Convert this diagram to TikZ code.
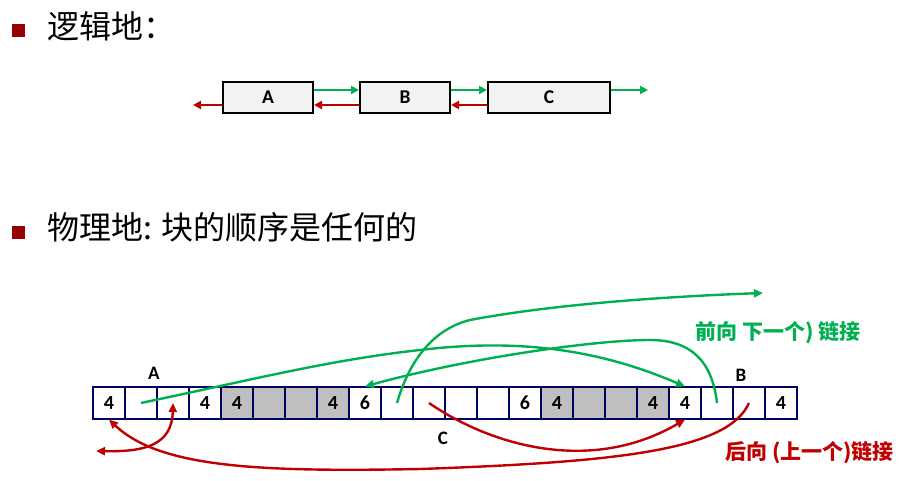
\documentclass[tikz,border=0pt]{standalone}
\usepackage{fontspec}
\setmainfont{Carlito}
\newfontfamily\cjk{Noto Sans CJK SC}
\usetikzlibrary{arrows.meta}
\definecolor{lgreen}{HTML}{00B050}
\definecolor{lred}{HTML}{C00000}
\definecolor{bul}{HTML}{990000}
\definecolor{navy}{HTML}{000060}
\definecolor{boxfill}{HTML}{F2F2F2}
\definecolor{gfill}{HTML}{BFBFBF}
\begin{document}
\begin{tikzpicture}[x=1pt,y=-1pt,
  bulletbox/.style={fill=bul, minimum size=13pt, inner sep=0pt},
  titletext/.style={font=\cjk\fontsize{32}{36}\selectfont, anchor=west, inner sep=0pt},
  lbox/.style={draw=black, line width=2pt, fill=boxfill, minimum height=31pt, inner sep=0pt, font=\fontsize{19.5}{22}\selectfont\bfseries},
  cell/.style={draw=navy, line width=1.1pt, minimum size=32pt, inner sep=0pt, font=\fontsize{20}{22}\selectfont\bfseries},
  gcell/.style={cell, fill=gfill},
  lab/.style={font=\fontsize{19}{21}\selectfont\bfseries, inner sep=0pt},
  legend/.style={font=\cjk\fontsize{21}{24}\selectfont\bfseries, anchor=west, inner sep=0pt},
  tgarr/.style={draw=lgreen, line width=2pt, -{Triangle[length=8pt,width=8pt]}},
  trarr/.style={draw=lred, line width=2pt, -{Triangle[length=8pt,width=8pt]}},
  bgarr/.style={draw=lgreen, line width=2.4pt, -{Triangle[length=9pt,width=8pt]}},
  brarr/.style={draw=lred, line width=2.4pt, -{Triangle[length=9pt,width=8pt]}},
]
\path[use as bounding box] (0,0) rectangle (912,481);

% titles
\node[bulletbox] (b1) at (18.5,30.5) {};
\node[titletext] (t1) at (47,26) {逻辑地：};
\node[bulletbox] (b2) at (18.5,232) {};
\node[titletext] (t2) at (47,227) {物理地: 块的顺序是任何的};

% logical list
\node[lbox, minimum width=90pt] (A) at (268,97.5) {A};
\node[lbox, minimum width=90pt] (B) at (405,97.5) {B};
\node[lbox, minimum width=122pt] (C) at (549,97.5) {C};
\coordinate (nullA) at (193,105);
\coordinate (nullC) at (648,90);
\draw[tgarr] ([yshift=7.5pt]A.east) -- ([yshift=7.5pt]B.west);
\draw[tgarr] ([yshift=7.5pt]B.east) -- ([yshift=7.5pt]C.west);
\draw[tgarr] ([yshift=7.5pt]C.east) -- (nullC);
\draw[trarr] ([yshift=-7.5pt]B.west) -- ([yshift=-7.5pt]A.east);
\draw[trarr] ([yshift=-7.5pt]C.west) -- ([yshift=-7.5pt]B.east);
\draw[trarr] ([yshift=-7.5pt]A.west) -- (nullA);

% physical row
\node[cell]  (c0)  at (109,403) {4};
\node[cell]  (c1)  at (141,403) {};
\node[cell]  (c2)  at (173,403) {};
\node[cell]  (c3)  at (205,403) {4};
\node[gcell] (c4)  at (237,403) {4};
\node[gcell] (c5)  at (269,403) {};
\node[gcell] (c6)  at (301,403) {};
\node[gcell] (c7)  at (333,403) {4};
\node[cell]  (c8)  at (365,403) {6};
\node[cell]  (c9)  at (397,403) {};
\node[cell]  (c10) at (429,403) {};
\node[cell]  (c11) at (461,403) {};
\node[cell]  (c12) at (493,403) {};
\node[cell]  (c13) at (525,403) {6};
\node[gcell] (c14) at (557,403) {4};
\node[gcell] (c15) at (589,403) {};
\node[gcell] (c16) at (621,403) {};
\node[gcell] (c17) at (653,403) {4};
\node[cell]  (c18) at (685,403) {4};
\node[cell]  (c19) at (717,403) {};
\node[cell]  (c20) at (749,403) {};
\node[cell]  (c21) at (781,403) {4};

\node[lab] (labA) at (154,373) {A};
\node[lab] (labB) at (741,375) {B};
\node[lab] (labC) at (443,438) {C};

\node[legend, text=lgreen] (lg1) at (695,333) {前向 下一个) 链接};
\node[legend, text=lred] (lg2) at (725,453) {后向 (上一个)链接};

\coordinate (nullCn) at (763,293);
\coordinate (nullAp) at (96,451);

% green (next) links
\draw[bgarr] (c1.center) .. controls (260,378) and (330,360) .. (420,350)
  .. controls (520,338) and (600,350) .. (c18.north);
\draw[bgarr] (c9.center) .. controls (408,365) and (430,330) .. (470,320)
  .. controls (560,303) and (680,296) .. (nullCn);
\draw[bgarr] (c19.center) .. controls (712,360) and (690,340) .. (650,340)
  .. controls (590,340) and (460,360) .. (c8.north);

% red (prev) links
\draw[brarr] (c10.center) .. controls (490,445) and (590,475) .. (c18.south);
\draw[brarr] (c20.center) .. controls (728,450) and (620,462) .. (420,469)
  .. controls (260,472) and (160,468) .. (c0.south);
\draw[draw=lred, line width=2.4pt, {Triangle[length=9pt,width=8pt]}-{Triangle[length=9pt,width=8pt]}]
  (c2.center) .. controls (172,445) and (145,452) .. (nullAp);
\end{tikzpicture}
\end{document}
